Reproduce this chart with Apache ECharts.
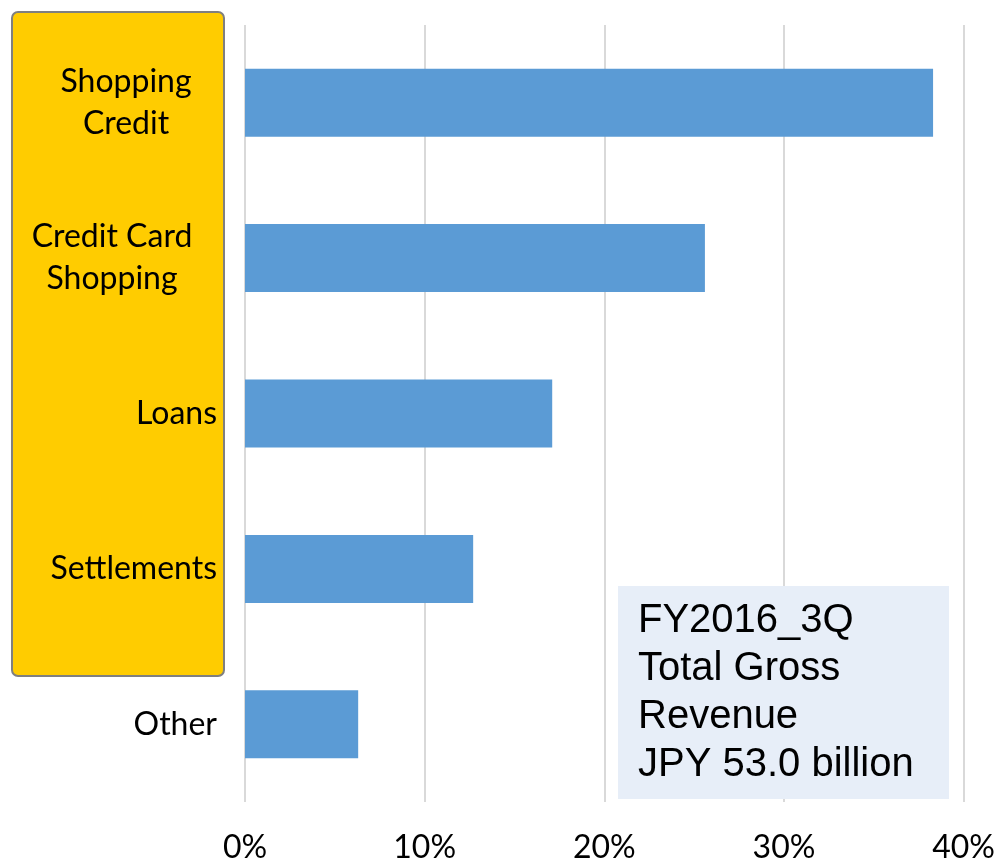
<!DOCTYPE html>
<html>
<head>
<meta charset="utf-8">
<script src="https://cdn.jsdelivr.net/npm/echarts@6/dist/echarts.min.js"></script>
<style>
  html, body { margin: 0; padding: 0; background: #ffffff; }
  #chart { width: 998px; height: 864px; }
</style>
</head>
<body>
<div id="chart"></div>
<script>
// Revenue mix by business line (share of total gross revenue, %)
const categories = ['Shopping\nCredit', 'Credit Card\nShopping', 'Loans', 'Settlements', 'Other'];
const shares = [38.3, 25.6, 17.1, 12.7, 6.3];
const axisMin = 0;
const axisMax = 40;
const axisStep = 10;
const noteLines = ['FY2016_3Q', 'Total Gross', 'Revenue', 'JPY 53.0 billion'];

const chart = echarts.init(document.getElementById('chart'), null, { renderer: 'canvas' });

// two-line labels are centred line by line inside a fixed-width block
const blockWidths = { 0: 182, 1: 210 };

chart.setOption({
  animation: false,
  backgroundColor: '#ffffff',
  grid: { left: 245, right: 33, top: 25, bottom: 57, containLabel: false },
  xAxis: {
    type: 'value',
    min: axisMin,
    max: axisMax,
    interval: axisStep,
    axisLine: { show: false },
    axisTick: { show: false },
    splitLine: { show: true, lineStyle: { color: '#d9d9d9', width: 2 } },
    axisLabel: {
      formatter: '{value}%',
      color: '#000000',
      fontFamily: 'Lato',
      fontSize: 32,
      margin: 30
    }
  },
  yAxis: {
    type: 'category',
    inverse: true,
    data: categories,
    axisLine: { show: false },
    axisTick: { show: false },
    splitLine: { show: false },
    axisLabel: {
      color: '#000000',
      fontFamily: 'Lato',
      fontSize: 32,
      lineHeight: 42,
      margin: 28,
      formatter: function (value, index) {
        if (value.indexOf('\n') < 0) return value;
        const key = 'w' + index;
        return value.split('\n').map(function (l) { return '{' + key + '|' + l + '}'; }).join('\n');
      },
      rich: {
        w0: { width: blockWidths[0], align: 'center', fontFamily: 'Lato', fontSize: 32, lineHeight: 42, color: '#000000' },
        w1: { width: blockWidths[1], align: 'center', fontFamily: 'Lato', fontSize: 32, lineHeight: 42, color: '#000000' }
      }
    }
  },
  series: [{
    type: 'bar',
    data: shares,
    barWidth: 68,
    itemStyle: { color: '#5b9bd5' },
    z: 3
  }],
  graphic: {
    elements: [
      {
        type: 'rect',
        z: -1,
        shape: { x: 12, y: 12, width: 212, height: 664, r: 6 },
        style: { fill: '#ffcc00', stroke: '#7f7f7f', lineWidth: 2 }
      },
      {
        type: 'rect',
        z: 10,
        shape: { x: 618, y: 586, width: 331, height: 213 },
        style: { fill: '#e7eef8' }
      },
      {
        type: 'text',
        z: 11,
        x: 638,
        y: 597,
        style: {
          text: noteLines.join('\n'),
          fill: '#000000',
          font: '40px "Liberation Sans", Arial, sans-serif',
          lineHeight: 48,
          textAlign: 'left',
          textVerticalAlign: 'top'
        }
      }
    ]
  }
});
</script>
</body>
</html>
